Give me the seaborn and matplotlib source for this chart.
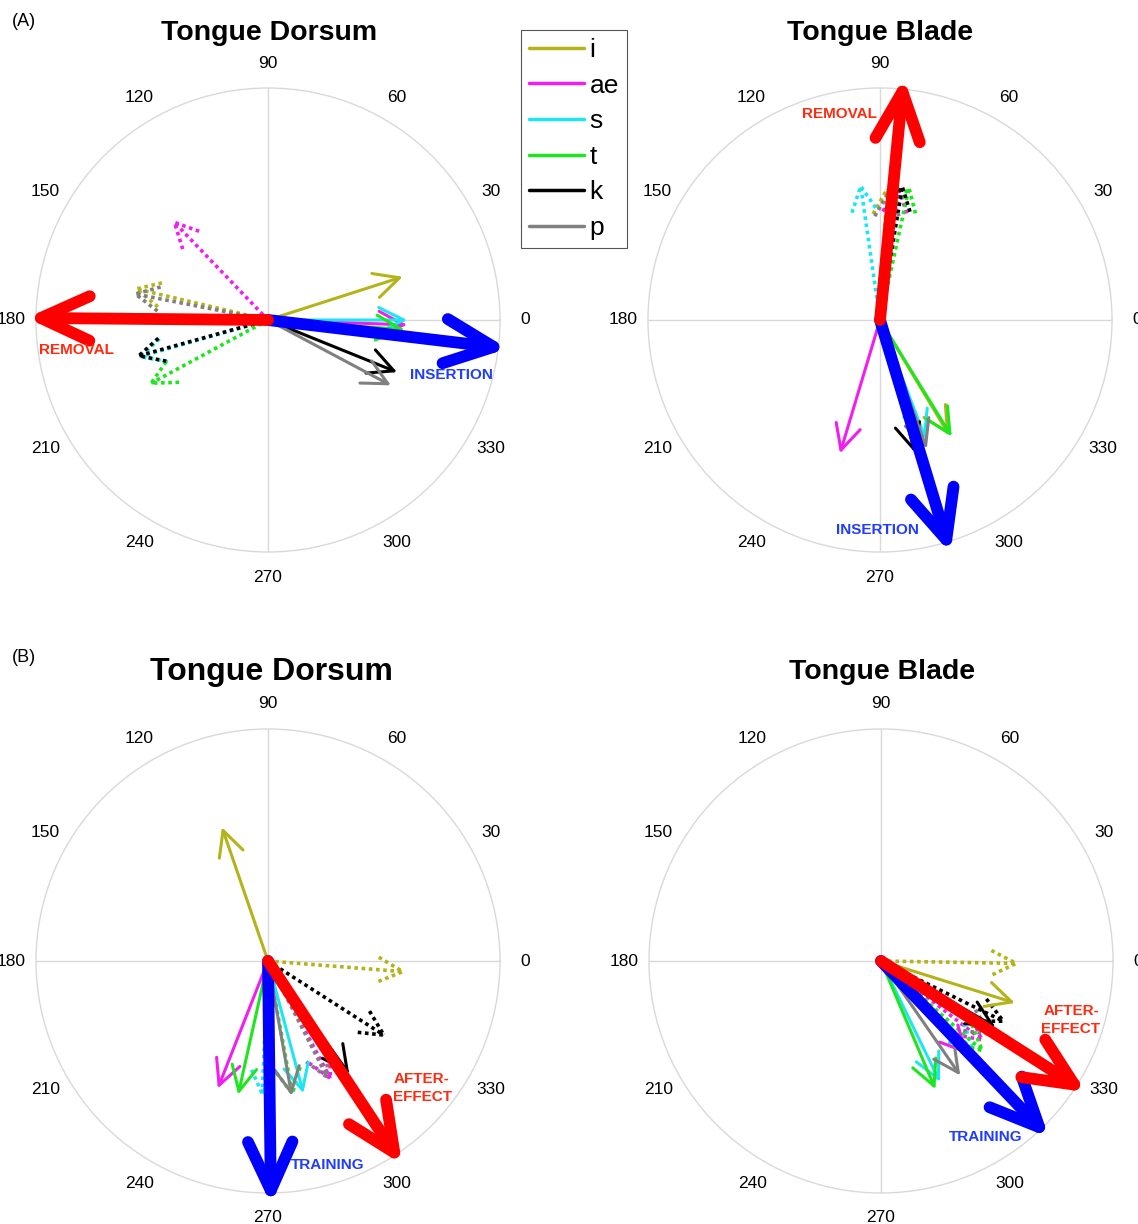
import numpy as np
import matplotlib
matplotlib.use("Agg")
import matplotlib.pyplot as plt
from matplotlib.lines import Line2D
import seaborn as sns

sns.set_theme(style="white")
plt.rcParams['font.family'] = ['Liberation Sans', 'DejaVu Sans']
plt.rcParams['text.color'] = 'black'
plt.rcParams['xtick.color'] = 'black'

# phonemes and their colours
phonemes = ['i', 'ae', 's', 't', 'k', 'p']
colors = ['#b4b31a', '#f01ef0', '#1ee6f0', '#1ee61e', '#000000', '#808080']

# (A) Tongue Dorsum: angle (deg), magnitude (relative)
a_dor_ins_ang = [17.8, -2, 0, -4, -22, -28]
a_dor_ins_mag = [0.61, 0.60, 0.60, 0.59, 0.60, 0.60]
a_dor_rem_ang = [166.7, 133.8, 196.0, 208.4, 195.5, 168.9]
a_dor_rem_mag = [0.60, 0.60, 0.59, 0.59, 0.595, 0.60]
a_dor_mean_ang = [-6.8, 179.5]    # insertion, removal
a_dor_mean_mag = [1.04, 1.04]

# (A) Tongue Blade
a_bla_ins_ang = [301.0, 253.3, 291.0, 301.6, 284.7, 290.0]
a_bla_ins_mag = [0.58, 0.60, 0.55, 0.59, 0.59, 0.59]
a_bla_rem_ang = [87.0, 82.0, 98.2, 77.6, 80.5, 86.0]
a_bla_rem_mag = [0.58, 0.59, 0.60, 0.60, 0.60, 0.57]
a_bla_mean_ang = [286.8, 84.4]
a_bla_mean_mag = [1.05, 1.05]

# (B) Tongue Dorsum: training (solid), after-effect (dotted)
b_dor_tr_ang = [109.0, 248.5, 285.0, 257.4, 305.7, 280.0]
b_dor_tr_mag = [0.61, 0.59, 0.59, 0.59, 0.60, 0.59]
b_dor_af_ang = [355.5, 298.0, 267.5, 280.4, 327.4, 297.0]
b_dor_af_mag = [0.60, 0.59, 0.59, 0.60, 0.61, 0.58]
b_dor_mean_ang = [270.7, 303.4]   # training, after-effect
b_dor_mean_mag = [1.05, 1.05]

# (B) Tongue Blade
b_bla_tr_ang = [342.6, 313.0, 296.0, 293.0, 330.0, 304.7]
b_bla_tr_mag = [0.605, 0.55, 0.58, 0.60, 0.57, 0.60]
b_bla_af_ang = [359.0, 322.0, 316.0, 318.5, 333.8, 326.0]
b_bla_af_mag = [0.60, 0.57, 0.57, 0.60, 0.605, 0.58]
b_bla_mean_ang = [313.6, 327.4]
b_bla_mean_mag = [1.05, 1.05]

W, H = 1138, 1224
fig = plt.figure(figsize=(W / 100, H / 100), dpi=100)
R = 232


def px_axes(cx, cy):
    return fig.add_axes([(cx - R) / W, 1 - (cy + R) / H, 2 * R / W, 2 * R / H],
                        projection='polar')


def arrow(ax, ang, mag, color, lw, ls='-', hl=1.8, hw=0.9):
    cap = 'butt' if ls != '-' else 'round'
    ax.annotate('', xy=(np.radians(ang), mag), xytext=(0, 0),
                annotation_clip=False,
                arrowprops=dict(arrowstyle=f'->,head_length={hl},head_width={hw}',
                                color=color, lw=lw, linestyle=ls,
                                shrinkA=0, shrinkB=0, mutation_scale=10,
                                capstyle=cap, joinstyle='round'))


def setup(ax):
    ax.set_ylim(0, 1)
    ax.set_yticks([])
    ax.set_thetagrids(range(0, 360, 30), [str(d) for d in range(0, 360, 30)])
    ax.tick_params(axis='x', labelsize=12.5, pad=5, colors='black')
    for i, gl in enumerate(ax.xaxis.get_gridlines()):
        gl.set_visible(i % 3 == 0)
        gl.set_color('#d9d9d9')
        gl.set_linewidth(1)
        gl.set_linestyle('-')
    ax.spines['polar'].set_color('#d9d9d9')
    ax.spines['polar'].set_linewidth(1)
    ax.set_facecolor('white')


def panel(ax, dot_ang, dot_mag, sol_ang, sol_mag, mean_ang, mean_mag):
    setup(ax)
    for a, m, c in zip(dot_ang, dot_mag, colors):
        arrow(ax, a, m, c, 2.6, (0, (1, 1)))
    for a, m, c in zip(sol_ang, sol_mag, colors):
        arrow(ax, a, m, c, 2.2, '-')
    # blue (insertion/training) then red (removal/after-effect)
    arrow(ax, mean_ang[0], mean_mag[0], '#0000ff', 8.5, '-', hl=3.5, hw=1.6)
    arrow(ax, mean_ang[1], mean_mag[1], '#ff0000', 8.5, '-', hl=3.5, hw=1.6)


ax1 = px_axes(268, 320)
panel(ax1, a_dor_rem_ang, a_dor_rem_mag, a_dor_ins_ang, a_dor_ins_mag,
      a_dor_mean_ang, a_dor_mean_mag)
ax2 = px_axes(880, 320)
panel(ax2, a_bla_rem_ang, a_bla_rem_mag, a_bla_ins_ang, a_bla_ins_mag,
      a_bla_mean_ang, a_bla_mean_mag)
ax3 = px_axes(268, 961)
panel(ax3, b_dor_af_ang, b_dor_af_mag, b_dor_tr_ang, b_dor_tr_mag,
      b_dor_mean_ang, b_dor_mean_mag)
ax4 = px_axes(881, 961)
panel(ax4, b_bla_af_ang, b_bla_af_mag, b_bla_tr_ang, b_bla_tr_mag,
      b_bla_mean_ang, b_bla_mean_mag)


def ftext(x, y, s, **kw):
    fig.text(x / W, 1 - y / H, s, ha='center', va='center', **kw)


# titles and panel labels
ftext(269, 33, 'Tongue Dorsum', fontsize=20.5, fontweight='bold')
ftext(880, 33, 'Tongue Blade', fontsize=20.5, fontweight='bold')
ftext(271, 672, 'Tongue Dorsum', fontsize=23, fontweight='bold')
ftext(882, 672, 'Tongue Blade', fontsize=20.5, fontweight='bold')
ftext(24, 22, '(A)', fontsize=13)
ftext(24, 658, '(B)', fontsize=13)

red_t, blue_t = '#ff2a10', '#1f3cff'
lab = dict(fontsize=11, fontweight='bold')
ftext(76, 350, 'REMOVAL', color=red_t, **lab)
ftext(451, 375, 'INSERTION', color=blue_t, **lab)
ftext(839, 114, 'REMOVAL', color=red_t, **lab)
ftext(877, 530, 'INSERTION', color=blue_t, **lab)
ftext(422, 1088, 'AFTER-\nEFFECT', color=red_t, linespacing=1.3, **lab)
ftext(328, 1165, 'TRAINING', color=blue_t, **lab)
ftext(1071, 1020, 'AFTER-\nEFFECT', color=red_t, linespacing=1.3, **lab)
ftext(986, 1137, 'TRAINING', color=blue_t, **lab)

# legend
handles = [Line2D([], [], color=c, lw=2.5) for c in colors]
leg = fig.legend(handles, phonemes, loc='upper left',
                 bbox_to_anchor=(521 / W, 1 - 30 / H), fontsize=19,
                 handlelength=2.1, handletextpad=0.2, labelspacing=0.44,
                 borderpad=0.3, borderaxespad=0, fancybox=False, framealpha=1)
leg.get_frame().set_edgecolor('#555555')
leg.get_frame().set_linewidth(0.8)
for t in leg.get_texts():
    t.set_color('black')

fig.savefig('out.png', dpi=100, facecolor='white')
